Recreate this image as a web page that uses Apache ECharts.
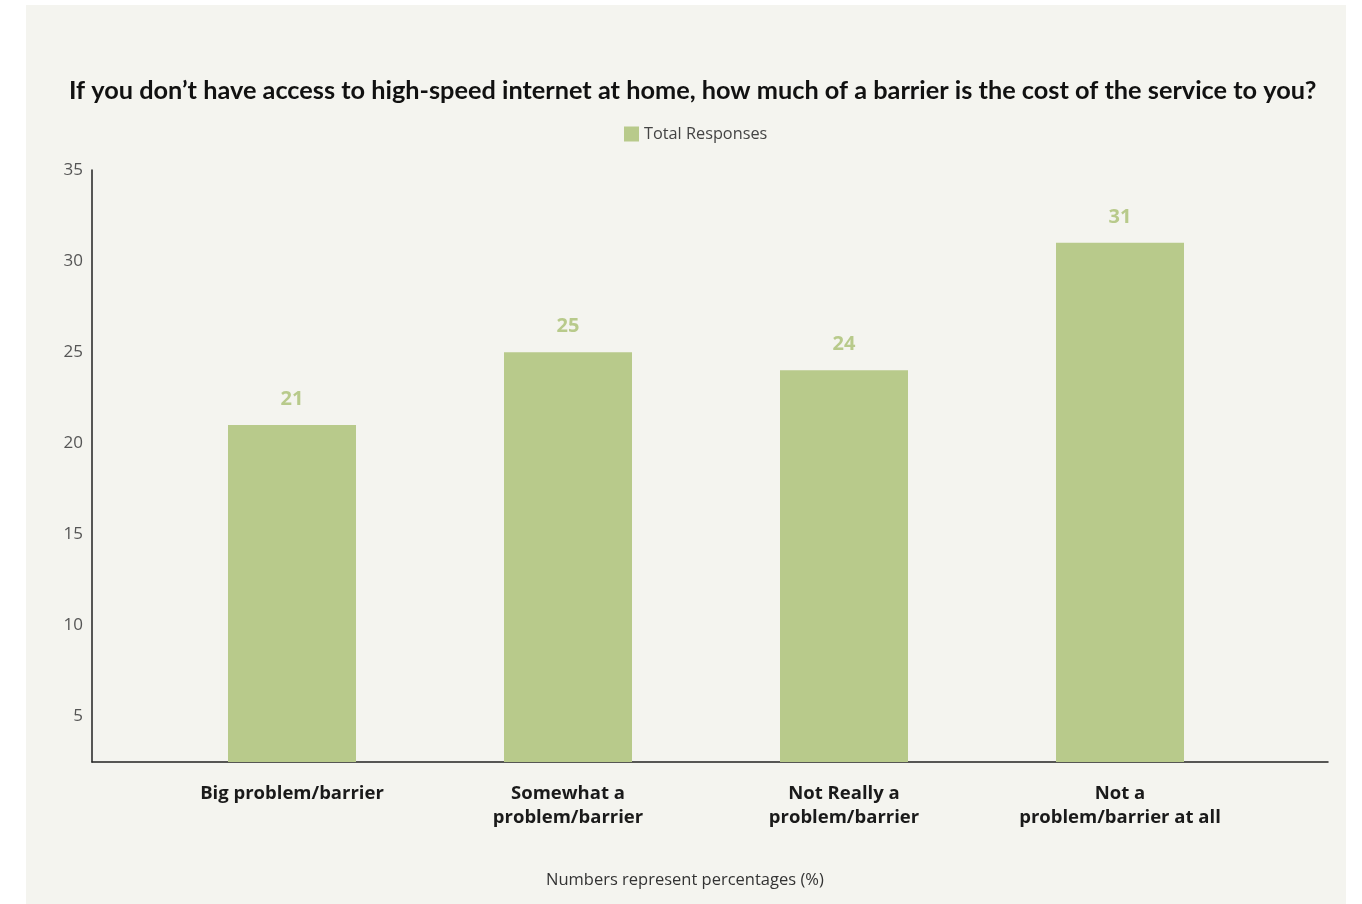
<!DOCTYPE html>
<html>
<head>
<meta charset="utf-8">
<title>Cost of high-speed internet as a barrier</title>
<script src="https://cdn.jsdelivr.net/npm/echarts@6/dist/echarts.min.js"></script>
<style>
  html, body { margin: 0; padding: 0; background: #ffffff; }
  #panel { position: absolute; left: 26px; top: 5px; width: 1320px; height: 899px; background: #f4f4ef; }
  #chart { position: absolute; left: 0; top: 0; width: 1362px; height: 904px; }
</style>
</head>
<body>
<div id="panel"></div>
<div id="chart"></div>
<script>
// Survey answers and their share of total responses (%)
const categories = [
  'Big problem/barrier',
  'Somewhat a\nproblem/barrier',
  'Not Really a\nproblem/barrier',
  'Not a\nproblem/barrier at all'
];
const totalResponses = [21, 25, 24, 31];
const yTickLabels = [5, 10, 15, 20, 25, 30, 35];

const titleText = 'If you don\u2019t have access to high-speed internet at home, how much of a barrier is the cost of the service to you?';
const footnote = 'Numbers represent percentages (%)';
const seriesName = 'Total Responses';

const green = '#b8ca8b';
const axisMin = 2.5, axisMax = 35;

const chart = echarts.init(document.getElementById('chart'), null, { renderer: 'canvas' });

chart.setOption({
  backgroundColor: 'transparent',
  animation: false,
  title: [
    {
      text: titleText,
      left: 64, top: 73,
      textStyle: { fontFamily: 'Lato', fontWeight: 'bold', fontSize: 25.3, color: '#111111' }
    },
    {
      text: footnote,
      left: 541, top: 867,
      textStyle: { fontFamily: 'Open Sans', fontWeight: 'normal', fontSize: 16.5, color: '#333333' }
    }
  ],
  legend: {
    data: [seriesName],
    left: 619, top: 121,
    icon: 'rect', itemWidth: 15, itemHeight: 15, itemGap: 5,
    textStyle: { fontFamily: 'Open Sans', fontSize: 16.3, color: '#444444' }
  },
  grid: [
    // frame with axis lines and value labels
    { left: 92, right: 34, top: 170, bottom: 142 },
    // plotting band for the bars
    { left: 154, right: 104, top: 170, bottom: 142 }
  ],
  xAxis: [
    {
      type: 'category', gridIndex: 0, data: [''],
      axisLine: { show: true, lineStyle: { color: '#222222', width: 1.5 } },
      axisTick: { show: false }, axisLabel: { show: false }
    },
    {
      type: 'category', gridIndex: 1, data: categories,
      axisLine: { show: false }, axisTick: { show: false },
      axisLabel: {
        interval: 0, margin: 20, verticalAlign: 'top',
        fontFamily: 'Open Sans', fontWeight: 'bold', fontSize: 18.5, lineHeight: 24,
        color: '#1a1a1a', align: 'center'
      }
    }
  ],
  yAxis: [
    {
      type: 'value', gridIndex: 0, min: axisMin, max: axisMax, interval: 2.5,
      axisLine: { show: true, lineStyle: { color: '#222222', width: 1.5 } },
      axisTick: { show: false },
      splitLine: { show: false },
      axisLabel: {
        margin: 9, fontFamily: 'Open Sans', fontSize: 17, color: '#555555',
        formatter: v => (yTickLabels.indexOf(v) >= 0 ? String(v) : '')
      }
    },
    {
      type: 'value', gridIndex: 1, min: axisMin, max: axisMax, interval: 2.5,
      axisLine: { show: false }, axisTick: { show: false },
      splitLine: { show: false }, axisLabel: { show: false }
    }
  ],
  series: [
    {
      name: seriesName, type: 'bar',
      xAxisIndex: 1, yAxisIndex: 1,
      data: totalResponses,
      barWidth: 128,
      itemStyle: { color: green },
      label: {
        show: true, position: 'top', distance: 16,
        fontFamily: 'Open Sans', fontWeight: 'bold', fontSize: 20, color: green
      }
    }
  ]
});
</script>
</body>
</html>
